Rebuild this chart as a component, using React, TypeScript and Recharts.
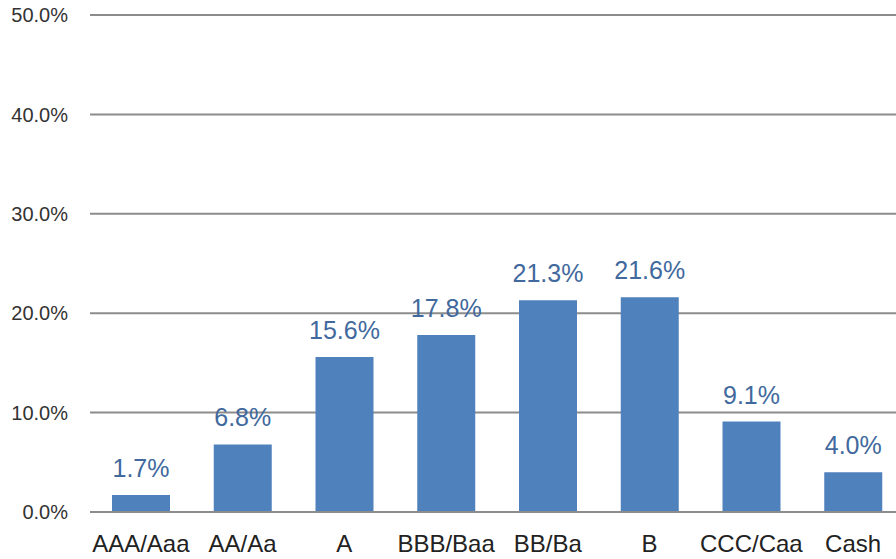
import React from "react";
import { Bar, BarChart, CartesianGrid, LabelList, XAxis, YAxis } from "recharts";

const ratings = ["AAA/Aaa", "AA/Aa", "A", "BBB/Baa", "BB/Ba", "B", "CCC/Caa", "Cash"];
const weights = [1.7, 6.8, 15.6, 17.8, 21.3, 21.6, 9.1, 4.0];
const yTicks = [0, 10, 20, 30, 40, 50];

const data = ratings.map((rating, i) => ({ rating, weight: weights[i] }));

const pct = (v: number) => `${Number(v).toFixed(1)}%`;

export default function App() {
  return (
    <div style={{ width: 896, height: 559, overflow: "hidden" }}>
      <style>{"body{margin:0}"}</style>
      <BarChart
        width={904}
        height={559}
        data={data}
        margin={{ top: 15, right: 0, left: 0, bottom: 0 }}
      >
        <CartesianGrid stroke="#8c8c8c" strokeWidth={2} vertical={false} />
        <XAxis
          dataKey="rating"
          height={47}
          tickLine={false}
          tickSize={0}
          tickMargin={23}
          axisLine={{ stroke: "#8c8c8c", strokeWidth: 2 }}
          tick={{ fill: "#222", fontSize: 24, fontFamily: "Liberation Sans" }}
          interval={0}
        />
        <YAxis
          width={90}
          domain={[0, 50]}
          ticks={yTicks}
          tickFormatter={pct}
          tickLine={false}
          axisLine={false}
          tickSize={0}
          tickMargin={22}
          tick={{ fill: "#333", fontSize: 20, fontFamily: "Liberation Sans" }}
        />
        <Bar dataKey="weight" fill="#4f81bd" barSize={58} isAnimationActive={false}>
          <LabelList
            dataKey="weight"
            position="top"
            offset={18}
            formatter={(v: any) => pct(v)}
            style={{ fill: "#41699d", fontSize: 25, fontFamily: "Liberation Sans" }}
          />
        </Bar>
      </BarChart>
    </div>
  );
}
